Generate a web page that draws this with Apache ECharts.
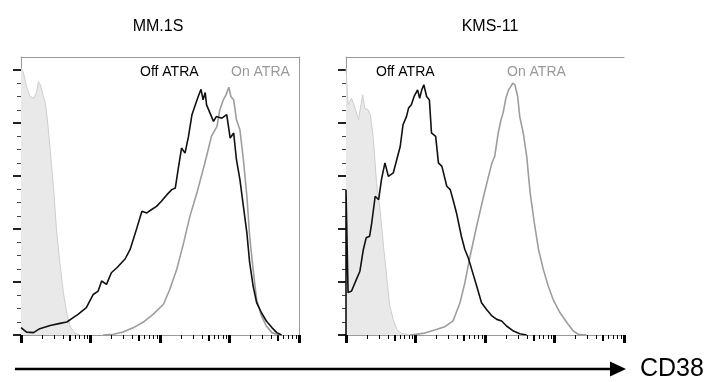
<!DOCTYPE html>
<html>
<head>
<meta charset="utf-8">
<script src="https://cdn.jsdelivr.net/npm/echarts@6/dist/echarts.min.js"></script>
<style>
  html, body { margin: 0; padding: 0; background: #fff; }
  #chart { width: 707px; height: 382px; }
</style>
</head>
<body>
<div id="chart"></div>
<script>
// x values are in log decades of CD38 fluorescence, y values are % of max
const panelTitles = ['MM.1S', 'KMS-11'];

// MM.1S
const mmIsoX = [0, 0.03, 0.08, 0.13, 0.18, 0.22, 0.25, 0.28, 0.31, 0.35, 0.38, 0.42, 0.47, 0.51, 0.56, 0.61, 0.66, 0.71, 0.78, 0.85];
const mmIsoY = [100.8, 99.5, 93.8, 90.1, 89.4, 91.3, 95.7, 94.5, 91.3, 87.6, 81.3, 70, 55, 40, 27, 16, 8, 3, 0.6, 0];
const mmOffX = [0, 0.08, 0.18, 0.27, 0.42, 0.56, 0.66, 0.73, 0.82, 0.94, 1.04, 1.11, 1.16, 1.23, 1.30, 1.38, 1.50, 1.57, 1.66, 1.74, 1.81, 1.88, 1.95, 2.02, 2.10, 2.17, 2.22, 2.26, 2.31, 2.36, 2.41, 2.46, 2.50, 2.55, 2.59, 2.62, 2.65, 2.67, 2.72, 2.77, 2.81, 2.89, 2.96, 3.01, 3.06, 3.10, 3.15, 3.20, 3.25, 3.29, 3.34, 3.39, 3.46, 3.53, 3.61, 3.68, 3.75];
const mmOffY = [2.8, 1.1, 0.9, 2.4, 3.6, 4.4, 4.9, 6.2, 7.8, 10.3, 15.3, 16.6, 20.4, 19.1, 23.5, 25.4, 28.8, 32.3, 39.8, 46.7, 46.1, 47.4, 48.6, 50.5, 53.0, 54.9, 55.5, 62.4, 70.6, 68.7, 75.0, 83.2, 86.3, 90.1, 92.8, 88.8, 91.6, 86.9, 83.8, 80.7, 82.5, 81.9, 83.2, 74.4, 76.3, 66.2, 58.7, 48.6, 38.6, 27.3, 18.5, 12.2, 8.4, 5.3, 2.8, 0.9, 0];
const mmOnX = [1.18, 1.33, 1.47, 1.62, 1.76, 1.90, 2.05, 2.14, 2.24, 2.34, 2.43, 2.53, 2.62, 2.67, 2.74, 2.82, 2.86, 2.91, 2.95, 2.99, 3.02, 3.06, 3.10, 3.15, 3.20, 3.25, 3.29, 3.34, 3.39, 3.46, 3.53, 3.61, 3.68, 3.75];
const mmOnY = [0, 0.3, 1.1, 2.8, 4.9, 7.8, 11.6, 17.2, 24.7, 34.8, 44.8, 53.6, 62.4, 67.5, 75, 78.8, 85, 88.8, 90.7, 93.6, 90.1, 88.8, 81.3, 77.5, 66.2, 52.4, 37.3, 24.7, 13.4, 7.2, 3.4, 0.9, 0.3, 0];

// KMS-11
const kmsIsoX = [0, 0.03, 0.08, 0.13, 0.18, 0.24, 0.27, 0.32, 0.35, 0.39, 0.44, 0.49, 0.54, 0.59, 0.63, 0.68, 0.73, 0.80, 0.92];
const kmsIsoY = [100.8, 87, 89.4, 85.7, 81.3, 90.7, 85.7, 85, 83.2, 75, 57.4, 47.4, 33.5, 21, 10.9, 5.9, 2.1, 0.6, 0];
const kmsOffX = [0, 0, 0.03, 0.08, 0.15, 0.20, 0.25, 0.29, 0.34, 0.37, 0.42, 0.47, 0.51, 0.56, 0.61, 0.68, 0.73, 0.78, 0.82, 0.87, 0.90, 0.94, 0.98, 1.03, 1.06, 1.09, 1.12, 1.16, 1.20, 1.23, 1.29, 1.33, 1.38, 1.40, 1.45, 1.50, 1.54, 1.59, 1.66, 1.71, 1.76, 1.81, 1.88, 1.95, 2.02, 2.10, 2.17, 2.24, 2.31, 2.41, 2.50, 2.60];
const kmsOffY = [0, 54.9, 16, 16.6, 21, 24.1, 32.3, 36.7, 37.3, 42.3, 52.4, 51.1, 58.7, 65, 59.9, 61.2, 66.2, 71.2, 79.4, 82.5, 85.7, 87, 90.1, 92.6, 89.4, 92.6, 94.5, 90.1, 88.8, 76.3, 75, 65, 63.7, 64.3, 56.2, 54.9, 51.1, 46.1, 37.3, 32.3, 29.1, 24.7, 18.5, 12.2, 9.7, 7.2, 5.9, 5.3, 3.4, 1.5, 0.5, 0];
const kmsOnX = [0.92, 1.11, 1.30, 1.42, 1.54, 1.64, 1.71, 1.78, 1.88, 1.98, 2.05, 2.10, 2.14, 2.19, 2.23, 2.26, 2.30, 2.34, 2.37, 2.40, 2.43, 2.47, 2.50, 2.55, 2.60, 2.65, 2.71, 2.77, 2.84, 2.91, 2.98, 3.08, 3.18, 3.27, 3.34, 3.46];
const kmsOnY = [0, 0.6, 2.1, 3.1, 5.3, 12.2, 19.7, 29.1, 41.1, 52.4, 59.9, 65, 67.5, 76.3, 81.3, 83.8, 89.4, 92.6, 93.8, 95.1, 94.5, 90.1, 82.5, 76.3, 67.5, 53.6, 42.3, 32.3, 24.7, 18.5, 13.4, 8.4, 4.6, 1.5, 0.3, 0];

// axis ticks (log decades)
const decades = [0, 1, 2, 3];
const majorTicks = [0, 1, 2, 3, 4];
const fiveTicks = decades.map(d => d + Math.log10(5));
const minorTicks = [];
decades.forEach(d => [2, 3, 4, 6, 7, 8, 9].forEach(m => minorTicks.push(d + Math.log10(m))));
const yMajorTicks = [0, 20, 40, 60, 80, 100];
const yMinorTicks = [5, 10, 15, 25, 30, 35, 45, 50, 55, 65, 70, 75, 85, 90, 95];

const zip = (xs, ys) => xs.map((x, i) => [x, ys[i]]);

const grids = [
  { left: 21, top: 57, width: 278, height: 278 },
  { left: 346, top: 57, width: 278, height: 278 }
];

const xAxes = [];
const yAxes = [];
const axisGray = '#9a9a9a';
grids.forEach((g, p) => {
  const base = { gridIndex: p, type: 'value', min: 0, max: 4, axisLabel: { show: false }, splitLine: { show: false } };
  xAxes.push({ ...base, position: 'bottom', axisLine: { show: true, onZero: false, lineStyle: { color: axisGray } },
    axisTick: { show: true, customValues: minorTicks, length: 4, lineStyle: { color: '#000', width: 1 } } });
  xAxes.push({ ...base, position: 'bottom', axisLine: { show: false, onZero: false },
    axisTick: { show: true, customValues: fiveTicks, length: 6, lineStyle: { color: '#000', width: 2 } } });
  xAxes.push({ ...base, position: 'bottom', axisLine: { show: false, onZero: false },
    axisTick: { show: true, customValues: majorTicks, length: 8, lineStyle: { color: '#000', width: 3 } } });
  xAxes.push({ ...base, position: 'top', axisLine: { show: true, onZero: false, lineStyle: { color: axisGray } },
    axisTick: { show: false } });

  const ybase = { gridIndex: p, type: 'value', min: 0, max: 105, axisLabel: { show: false }, splitLine: { show: false } };
  yAxes.push({ ...ybase, position: 'left', axisLine: { show: true, onZero: false, lineStyle: { color: axisGray } },
    axisTick: { show: true, customValues: yMajorTicks, length: 8, lineStyle: { color: '#222', width: 2 } } });
  yAxes.push({ ...ybase, position: 'left', axisLine: { show: false, onZero: false },
    axisTick: { show: true, customValues: yMinorTicks, length: 4, lineStyle: { color: '#444', width: 1 } } });
  if (p === 0) {
    yAxes.push({ ...ybase, position: 'right', axisLine: { show: true, onZero: false, lineStyle: { color: axisGray } },
      axisTick: { show: false } });
  }
});

const panelData = [
  { iso: zip(mmIsoX, mmIsoY), off: zip(mmOffX, mmOffY), on: zip(mmOnX, mmOnY), xi: 0, yi: 0 },
  { iso: zip(kmsIsoX, kmsIsoY), off: zip(kmsOffX, kmsOffY), on: zip(kmsOnX, kmsOnY), xi: 4, yi: 3 }
];

const series = [];
panelData.forEach(pd => {
  series.push({
    type: 'line', data: pd.iso, xAxisIndex: pd.xi, yAxisIndex: pd.yi, showSymbol: false, z: 1,
    lineStyle: { color: '#cdcdcd', width: 1 }, areaStyle: { color: '#e9e9e9', opacity: 1 }
  });
  series.push({
    type: 'line', data: pd.on, xAxisIndex: pd.xi, yAxisIndex: pd.yi, showSymbol: false, z: 2,
    lineStyle: { color: '#9d9d9d', width: 1.6 }
  });
  series.push({
    type: 'line', data: pd.off, xAxisIndex: pd.xi, yAxisIndex: pd.yi, showSymbol: false, z: 3,
    lineStyle: { color: '#111', width: 1.6 }
  });
});

const font = '"Liberation Sans", Arial, sans-serif';
const txt = (x, y, text, size, color, align) => ({
  type: 'text', x: x, y: y,
  style: { text: text, font: size + 'px ' + font, fill: color, textAlign: align || 'left', textVerticalAlign: 'middle' }
});

const chart = echarts.init(document.getElementById('chart'));
chart.setOption({
  animation: false,
  backgroundColor: '#fff',
  grid: grids.map(g => ({ ...g, outerBoundsMode: 'none' })),
  xAxis: xAxes,
  yAxis: yAxes,
  series: series,
  graphic: [
    txt(158, 27, panelTitles[0], 16, '#000', 'center'),
    txt(490, 27, panelTitles[1], 16, '#000', 'center'),
    txt(140, 72, 'Off ATRA', 14, '#000'),
    txt(231, 72, 'On ATRA', 14, '#999'),
    txt(376, 72, 'Off ATRA', 14, '#000'),
    txt(507, 72, 'On ATRA', 14, '#999'),
    { type: 'line', shape: { x1: 15, y1: 369, x2: 612, y2: 369 }, style: { stroke: '#000', lineWidth: 2.5 } },
    { type: 'polygon', shape: { points: [[610, 361.5], [626, 369], [610, 376.5]] }, style: { fill: '#000' } },
    txt(640, 369, 'CD38', 25, '#000')
  ]
});
window.addEventListener('resize', () => chart.resize());
</script>
</body>
</html>
